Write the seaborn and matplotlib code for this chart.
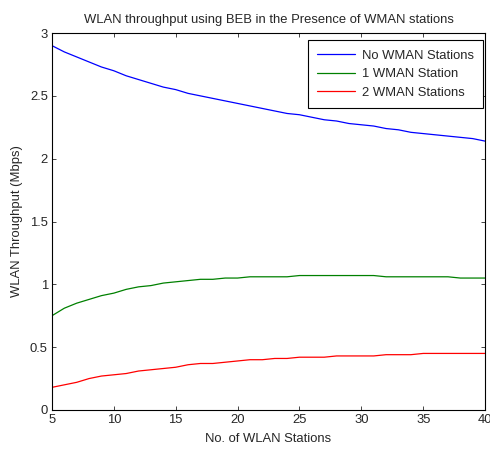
import matplotlib
matplotlib.use("Agg")
import matplotlib.pyplot as plt
import numpy as np
import pandas as pd
import seaborn as sns


stations = list(range(5, 41))

no_wman = [2.90, 2.85, 2.81, 2.77, 2.73, 2.70, 2.66, 2.63, 2.60, 2.57,
           2.55, 2.52, 2.50, 2.48, 2.46, 2.44, 2.42, 2.40, 2.38, 2.36,
           2.35, 2.33, 2.31, 2.30, 2.28, 2.27, 2.26, 2.24, 2.23, 2.21,
           2.20, 2.19, 2.18, 2.17, 2.16, 2.14]

one_wman = [0.75, 0.81, 0.85, 0.88, 0.91, 0.93, 0.96, 0.98, 0.99, 1.01,
            1.02, 1.03, 1.04, 1.04, 1.05, 1.05, 1.06, 1.06, 1.06, 1.06,
            1.07, 1.07, 1.07, 1.07, 1.07, 1.07, 1.07, 1.06, 1.06, 1.06,
            1.06, 1.06, 1.06, 1.05, 1.05, 1.05]

two_wman = [0.18, 0.20, 0.22, 0.25, 0.27, 0.28, 0.29, 0.31, 0.32, 0.33,
            0.34, 0.36, 0.37, 0.37, 0.38, 0.39, 0.40, 0.40, 0.41, 0.41,
            0.42, 0.42, 0.42, 0.43, 0.43, 0.43, 0.43, 0.44, 0.44, 0.44,
            0.45, 0.45, 0.45, 0.45, 0.45, 0.45]

series_names = ["No WMAN Stations", "1 WMAN Station", "2 WMAN Stations"]
series_colors = ["#0000ff", "#008000", "#ff0000"]


def main() -> None:
  sns.set_style("white")
  plt.rcParams["font.family"] = ["Liberation Sans", "DejaVu Sans"]
  fs = 9.4

  df = pd.DataFrame({
    "stations": stations * 3,
    "throughput": no_wman + one_wman + two_wman,
    "series": [series_names[0]] * len(stations)
    + [series_names[1]] * len(stations)
    + [series_names[2]] * len(stations),
  })

  fig = plt.figure(figsize=(4.9, 4.53), dpi=100)
  ax = fig.add_axes([0.106, 0.095, 0.884, 0.832])
  sns.lineplot(
    data=df,
    x="stations",
    y="throughput",
    hue="series",
    hue_order=series_names,
    palette=series_colors,
    linewidth=0.9,
    ax=ax,
  )

  ax.set_xlim(5, 40)
  ax.set_ylim(0, 3)
  ax.set_xticks(np.arange(5, 41, 5))
  ax.set_yticks([0, 0.5, 1, 1.5, 2, 2.5, 3])
  ax.set_yticklabels(["0", "0.5", "1", "1.5", "2", "2.5", "3"])
  ax.tick_params(direction="in", length=3, width=0.6, top=True, right=True,
                 bottom=True, left=True, labelsize=fs, pad=3)
  for s in ax.spines.values():
    s.set_color("black")
    s.set_linewidth(0.8)

  ax.set_title("WLAN throughput using BEB in the Presence of WMAN stations",
               fontsize=fs, pad=7)
  ax.set_xlabel("No. of WLAN Stations", fontsize=fs, labelpad=5)
  ax.set_ylabel("WLAN Throughput (Mbps)", fontsize=fs, labelpad=5)

  leg = ax.legend(loc="upper right", bbox_to_anchor=(0.995, 0.981),
                  fontsize=fs, frameon=True, fancybox=False,
                  edgecolor="black", framealpha=1, borderaxespad=0,
                  handlelength=2.85, handletextpad=0.55, labelspacing=0.5,
                  borderpad=0.7)
  leg.get_frame().set_linewidth(0.8)

  fig.savefig("out.png", dpi=100)
  plt.close(fig)


if __name__ == "__main__":
  main()
